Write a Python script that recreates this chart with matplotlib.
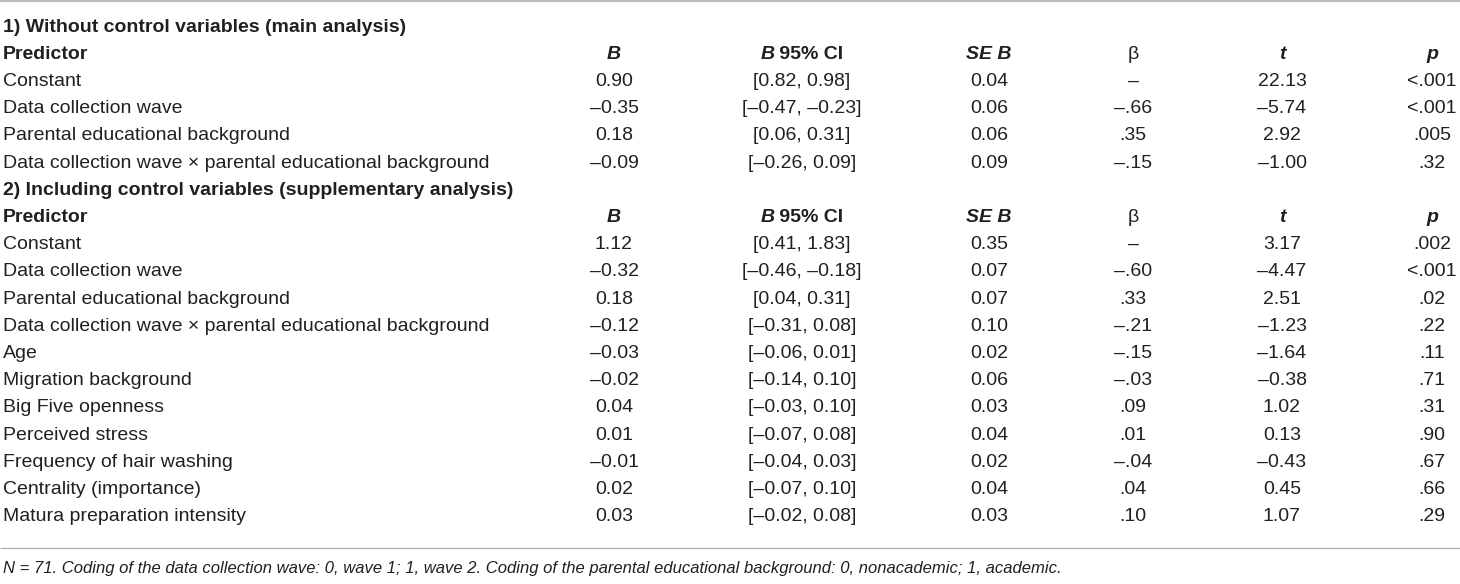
import matplotlib
matplotlib.use("Agg")
import matplotlib.pyplot as plt

# section 1: without control variables
pred1 = ["Constant", "Data collection wave", "Parental educational background",
         "Data collection wave \u00d7 parental educational background"]
b1 = [0.90, -0.35, 0.18, -0.09]
ci_lo1 = [0.82, -0.47, 0.06, -0.26]
ci_hi1 = [0.98, -0.23, 0.31, 0.09]
se1 = [0.04, 0.06, 0.06, 0.09]
beta1 = [None, -0.66, 0.35, -0.15]
t1 = [22.13, -5.74, 2.92, -1.00]
p1 = ["<.001", "<.001", ".005", ".32"]

# section 2: including control variables
pred2 = ["Constant", "Data collection wave", "Parental educational background",
         "Data collection wave \u00d7 parental educational background", "Age",
         "Migration background", "Big Five openness", "Perceived stress",
         "Frequency of hair washing", "Centrality (importance)",
         "Matura preparation intensity"]
b2 = [1.12, -0.32, 0.18, -0.12, -0.03, -0.02, 0.04, 0.01, -0.01, 0.02, 0.03]
ci_lo2 = [0.41, -0.46, 0.04, -0.31, -0.06, -0.14, -0.03, -0.07, -0.04, -0.07, -0.02]
ci_hi2 = [1.83, -0.18, 0.31, 0.08, 0.01, 0.10, 0.10, 0.08, 0.03, 0.10, 0.08]
se2 = [0.35, 0.07, 0.07, 0.10, 0.02, 0.06, 0.03, 0.04, 0.02, 0.04, 0.03]
beta2 = [None, -0.60, 0.33, -0.21, -0.15, -0.03, 0.09, 0.01, -0.04, 0.04, 0.10]
t2 = [3.17, -4.47, 2.51, -1.23, -1.64, -0.38, 1.02, 0.13, -0.43, 0.45, 1.07]
p2 = [".002", "<.001", ".02", ".22", ".11", ".71", ".31", ".90", ".67", ".66", ".29"]

titles = ["1) Without control variables (main analysis)",
          "2) Including control variables (supplementary analysis)"]
note = ("N = 71. Coding of the data collection wave: 0, wave 1; 1, wave 2. "
        "Coding of the parental educational background: 0, nonacademic; 1, academic.")

DASH = "\u2013"
INK = "#231f20"
FONT = "Liberation Sans"
FS = 14


def num(v):
    s = "%.2f" % abs(v)
    return (DASH if v < 0 else "") + s


def beta_str(v):
    if v is None:
        return DASH
    s = ("%.2f" % abs(v))[1:]
    return (DASH if v < 0 else "") + s


fig = plt.figure(figsize=(14.6, 5.84), dpi=100)
ax = fig.add_axes([0, 0, 1, 1])
ax.set_xlim(0, 1460)
ax.set_ylim(584, 0)
ax.axis("off")

col_x = [614, 802, 989, 1133, 1282, 1432]
x0 = 3
row_h = 27.2
y_first = 27


def txt(x, y, s, ha="left", weight="normal", style="normal"):
    return ax.text(x, y, s, ha=ha, va="center", fontsize=FS, family=FONT,
                   weight=weight, style=style, color=INK)


renderer = fig.canvas.get_renderer()


def header(y):
    txt(x0, y, "Predictor", weight="bold")
    txt(col_x[0], y, "B", ha="center", weight="bold", style="italic")
    # "B 95% CI" with italic B
    a = txt(0, y, "B", weight="bold", style="italic")
    b = txt(0, y, " 95% CI", weight="bold")
    wa = a.get_window_extent(renderer).width
    wb = b.get_window_extent(renderer).width
    start = col_x[1] - (wa + wb) / 2
    a.set_x(start)
    b.set_x(start + wa)
    txt(col_x[2], y, "SE B", ha="center", weight="bold", style="italic")
    txt(col_x[3], y, "\u03b2", ha="center")
    txt(col_x[4], y, "t", ha="center", weight="bold", style="italic")
    txt(col_x[5], y, "p", ha="center", weight="bold", style="italic")


def section(row, title, pred, b, lo, hi, se, beta, t, p):
    txt(x0, y_first + row * row_h, title, weight="bold")
    header(y_first + (row + 1) * row_h)
    for i in range(len(pred)):
        y = y_first + (row + 2 + i) * row_h
        txt(x0, y, pred[i])
        txt(col_x[0], y, num(b[i]), ha="center")
        txt(col_x[1], y, "[%s, %s]" % (num(lo[i]), num(hi[i])), ha="center")
        txt(col_x[2], y, num(se[i]), ha="center")
        txt(col_x[3], y, beta_str(beta[i]), ha="center")
        txt(col_x[4], y, num(t[i]), ha="center")
        txt(col_x[5], y, p[i], ha="center")
    return row + 2 + len(pred)


r = section(0, titles[0], pred1, b1, ci_lo1, ci_hi1, se1, beta1, t1, p1)
section(r, titles[1], pred2, b2, ci_lo2, ci_hi2, se2, beta2, t2, p2)

ax.plot([0, 1460], [1, 1], color="#bdbdbd", lw=1.6, solid_capstyle="butt")
ax.plot([0, 1460], [548, 548], color="#b0b0b0", lw=0.9, solid_capstyle="butt")
ax.text(x0, 568, note, ha="left", va="center", fontsize=12, family=FONT,
        style="italic", color=INK)

fig.savefig("out.png", dpi=100)
